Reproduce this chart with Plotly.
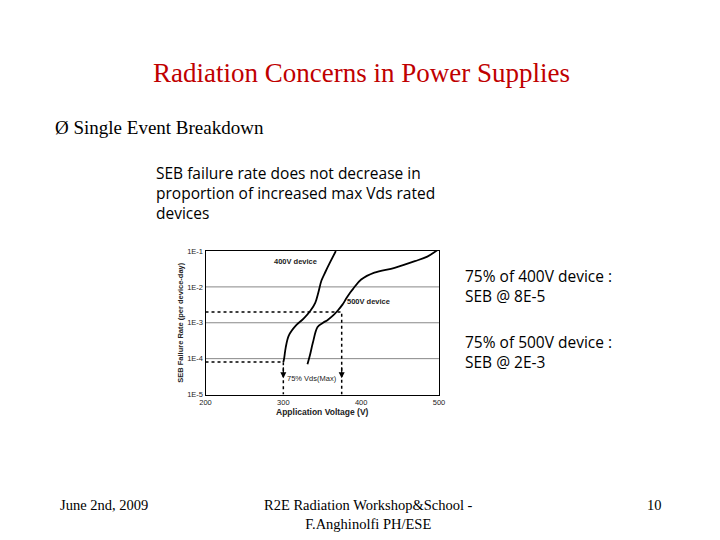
import plotly.graph_objects as go

v400 = [300, 301, 303, 307, 316, 326, 335, 341, 345, 349, 354, 360, 367.5]
r400 = [8e-5, 1e-4, 2e-4, 4.4e-4, 8.3e-4, 1.3e-3, 2.2e-3, 3.6e-3, 7e-3, 1.5e-2, 2.6e-2, 4.8e-2, 1e-1]
v500 = [331, 334, 338, 344, 351, 357, 364, 370, 376, 381, 386, 390, 400, 417, 443, 469, 485, 499]
r500 = [7e-5, 1.2e-4, 2.8e-4, 7.6e-4, 1e-3, 1.2e-3, 1.6e-3, 2.2e-3, 3.2e-3, 4.8e-3, 7e-3, 9e-3, 1.6e-2, 2.5e-2, 3.4e-2, 5.2e-2, 7e-2, 1.1e-1]
xticks = [200, 300, 400, 500]
yticks = [1e-5, 1e-4, 1e-3, 1e-2, 1e-1]
ylabels = ["1E-5", "1E-4", "1E-3", "1E-2", "1E-1"]
ref_v = [300, 375]
ref_r = [8e-5, 2e-3]

def px(p):  # compensate observed render offset/scale
    return (p - 16.5) / 0.973

fig = go.Figure()
for y in yticks[1:4]:
    fig.add_trace(go.Scatter(x=[200, 500], y=[y, y], mode="lines",
                             line=dict(color="#888", width=1), hoverinfo="skip"))
for v, r in zip(ref_v, ref_r):
    fig.add_trace(go.Scatter(x=[200, v, v], y=[r, r, 1e-5], mode="lines",
                             line=dict(color="black", width=1.5, dash="dot"), hoverinfo="skip"))
fig.add_trace(go.Scatter(x=v400, y=r400, mode="lines", line=dict(color="black", width=1.8, shape="spline")))
fig.add_trace(go.Scatter(x=v500, y=r500, mode="lines", line=dict(color="black", width=1.8, shape="spline")))

fs = dict(family="Liberation Sans", size=7.5, color="#222")
for v in ref_v:
    fig.add_annotation(x=v, y=-4.55, ax=v, ay=-4.2, xref="x", yref="y", axref="x", ayref="y",
                       text="", showarrow=True, arrowhead=2, arrowsize=1, arrowwidth=1.2, arrowcolor="black")
fig.add_annotation(x=337, y=-4.55, text="75% Vds(Max)", showarrow=False, font=fs, xanchor="center")
fig.add_annotation(x=315, y=-1.3, text="<b>400V device</b>", showarrow=False, font=fs)
fig.add_annotation(x=410, y=-2.4, text="<b>500V device</b>", showarrow=False, font=fs)

fig.update_xaxes(domain=[px(206) / 720, px(437) / 720], range=[200, 500], tickvals=xticks, showgrid=False,
                 zeroline=False, showline=True, linecolor="black", mirror=True,
                 tickfont=dict(family="Liberation Sans", size=7.5, color="#222"),
                 title=dict(text="<b>Application Voltage (V)</b>", font=dict(family="Liberation Sans", size=8.5, color="#222"), standoff=2))
fig.update_yaxes(domain=[1 - px(395) / 540, 1 - px(253) / 540], type="log", range=[-5, -1], tickvals=yticks, ticktext=ylabels,
                 showgrid=False, zeroline=False, showline=True, linecolor="black", mirror=True,
                 tickfont=dict(family="Liberation Sans", size=7.5, color="#222"),
                 title=dict(text="<b>SEB Failure Rate (per device-day)</b>", font=dict(family="Liberation Sans", size=7.5, color="#222"), standoff=2))

def txt(x, y, t, font, xa="left", ya="top", align="left"):
    fig.add_annotation(x=px(x)/720, y=1-px(y)/540, xref="paper", yref="paper", text=t, showarrow=False,
                       xanchor=xa, yanchor=ya, align=align, font=font)

serif = "Liberation Serif"
txt(360, 60, "Radiation Concerns in Power Supplies", dict(family=serif, size=27, color="#c00000"), xa="center")
txt(55, 118, "Ø Single Event Breakdown", dict(family=serif, size=19, color="black"))
txt(155, 163, "SEB failure rate does not decrease in<br>proportion of increased max Vds rated<br>devices",
    dict(family="Open Sans", size=15.5, color="black"))
txt(461, 265, "75% of 400V device :<br>SEB @ 8E-5", dict(family="Open Sans", size=15.5, color="black"))
txt(461, 330, "75% of 500V device :<br>SEB @ 2E-3", dict(family="Open Sans", size=15.5, color="black"))
txt(60, 494, "June 2nd, 2009", dict(family=serif, size=14.5, color="black"))
txt(367, 494, "R2E Radiation Workshop&School -<br>F.Anghinolfi PH/ESE", dict(family=serif, size=14.5, color="black"), xa="center", align="center")
txt(660, 494, "10", dict(family=serif, size=14.5, color="black"), xa="right")

fig.update_layout(width=720, height=540, margin=dict(l=0, r=0, t=0, b=0), showlegend=False,
                  paper_bgcolor="white", plot_bgcolor="white")
fig.write_html("out.html")
